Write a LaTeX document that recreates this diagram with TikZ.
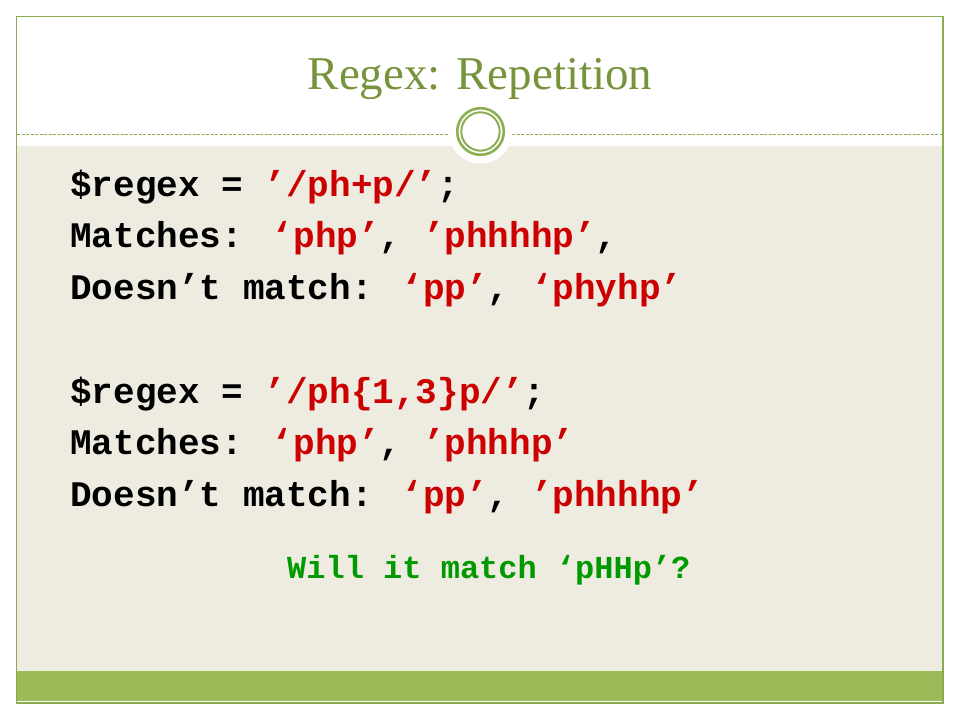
\documentclass[tikz,border=0pt]{standalone}
\usepackage{fontspec}
\newfontfamily\monof{Liberation Mono}
\newfontfamily\seriff{Liberation Serif}
\definecolor{beige}{HTML}{EEECE1}
\definecolor{barg}{HTML}{9BBB59}
\definecolor{titleg}{HTML}{77933C}
\definecolor{redt}{HTML}{CC0000}
\definecolor{qg}{HTML}{009900}
\definecolor{borderg}{HTML}{8AAB4E}
\definecolor{ringg}{HTML}{8CAF52}
\newcommand{\rd}[1]{\textcolor{redt}{#1}}
\begin{document}
\begin{tikzpicture}[x=1pt,y=-1pt,
  codeline/.style={anchor=base west, inner sep=0pt, text=black,
    font=\monof\bfseries\fontsize{36}{40}\selectfont},
  qline/.style={anchor=base west, inner sep=0pt, text=qg,
    font=\monof\bfseries\fontsize{32}{36}\selectfont},
  titletext/.style={anchor=base, inner sep=0pt, text=titleg,
    font=\seriff\fontsize{47}{51}\selectfont}]
\fill[white] (0,0) rectangle (960,720);
\useasboundingbox (0,0) rectangle (960,720);
% body and footer bar
\fill[beige] (17,146) rectangle (943,671);
\fill[barg] (17,671) rectangle (943,701);
% frame
\draw[borderg, line width=1.5] (16.5,16.5) rectangle (943,703);
% dotted divider
\draw[ringg, dash pattern=on 3 off 1.5, line width=1] (17,134) -- (943,134);
% medallion
\fill[white] (480.5,131.5) circle (32);
\draw[ringg, line width=2.6] (480.5,131.5) circle (23.3);
\draw[ringg, line width=2] (480.5,131.5) circle (19.2);
% title
\node[titletext] (title) at (480,89) {Regex: Repetition};
% code lines
\node[codeline] (l1) at (70,196) {\$regex = \rd{’/ph+p/’};};
\node[codeline] (l2) at (70,247.5) {Matches: \rd{‘php’}, \rd{’phhhhp’},};
\node[codeline] (l3) at (70,299) {Doesn’t match: \rd{‘pp’}, \rd{‘phyhp’}};
\node[codeline] (l4) at (70,403) {\$regex = \rd{’/ph\{1,3\}p/’};};
\node[codeline] (l5) at (70,454.5) {Matches: \rd{‘php’}, \rd{’phhhp’}};
\node[codeline] (l6) at (70,506) {Doesn’t match: \rd{‘pp’}, \rd{’phhhhp’}};
\node[qline] (q) at (287,578) {Will it match ‘pHHp’?};
\end{tikzpicture}
\end{document}
